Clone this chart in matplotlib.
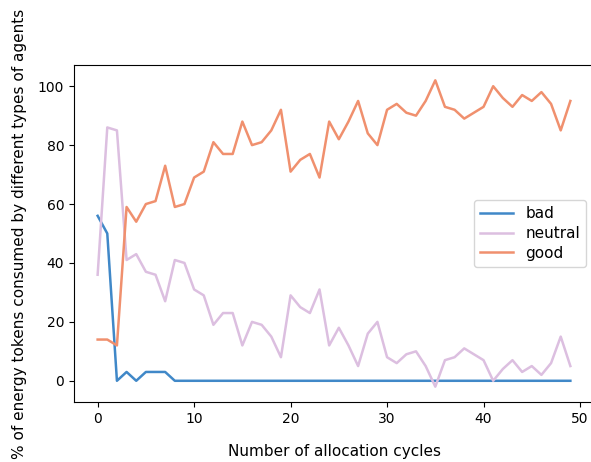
import numpy as np
import matplotlib
matplotlib.use("Agg")
import matplotlib.pyplot as plt

cycles = list(range(50))
bad = [56, 50, 0, 3, 0, 3, 3, 3, 0, 0,
       0, 0, 0, 0, 0, 0, 0, 0, 0, 0,
       0, 0, 0, 0, 0, 0, 0, 0, 0, 0,
       0, 0, 0, 0, 0, 0, 0, 0, 0, 0,
       0, 0, 0, 0, 0, 0, 0, 0, 0, 0]
neutral = [36, 86, 85, 41, 43, 37, 36, 27, 41, 40,
           31, 29, 19, 23, 23, 12, 20, 19, 15, 8,
           29, 25, 23, 31, 12, 18, 12, 5, 16, 20,
           8, 6, 9, 10, 5, -2, 7, 8, 11, 9,
           7, 0, 4, 7, 3, 5, 2, 6, 15, 5]
good = [14, 14, 12, 59, 54, 60, 61, 73, 59, 60,
        69, 71, 81, 77, 77, 88, 80, 81, 85, 92,
        71, 75, 77, 69, 88, 82, 88, 95, 84, 80,
        92, 94, 91, 90, 95, 102, 93, 92, 89, 91,
        93, 100, 96, 93, 97, 95, 98, 94, 85, 95]

fig = plt.figure(figsize=(5.91, 4.62), dpi=100)
# right spine sits just past the image edge, like the cropped original
ax = fig.add_axes([74 / 591, 60 / 462, 520 / 591, 337 / 462])

ax.plot(cycles, bad, color='#4088c8', lw=1.8, label='bad')
ax.plot(cycles, neutral, color='#dcbfe0', lw=1.8, label='neutral')
ax.plot(cycles, good, color='#f0906e', lw=1.8, label='good')

ax.tick_params(labelsize=10)
ax.set_xlabel('Number of allocation cycles', fontsize=11, labelpad=13)
ax.set_ylabel('% of energy tokens consumed by different types of agents', fontsize=11, labelpad=8)
ax.legend(loc='center right', fontsize=11, labelspacing=0.3, handlelength=2.2)

fig.savefig('out.png', dpi=100)
